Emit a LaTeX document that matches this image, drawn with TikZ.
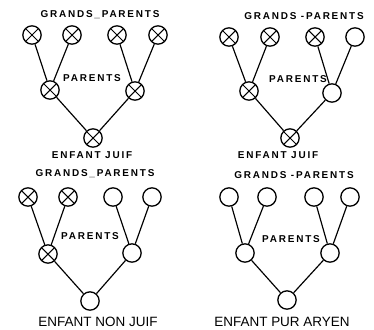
\documentclass[tikz,border=0pt]{standalone}
\usepackage{fontspec}
\setmainfont{Liberation Sans}
\newfontfamily\handfont[LetterSpace=18]{Liberation Sans}
\usetikzlibrary{arrows.meta}

\tikzset{
  pers/.style={circle,draw,line width=1.1pt,minimum size=0.55cm,inner sep=0pt},
  juif/.style={pers,path picture={
      \draw[line width=0.9pt] (path picture bounding box.north west)--(path picture bounding box.south east)
        (path picture bounding box.south west)--(path picture bounding box.north east);}},
  lien/.style={line width=1pt},
  hand/.style={font=\handfont\bfseries\fontsize{8.5}{9}\selectfont},
  legende/.style={font=\fontsize{11.5}{13}\selectfont}
}

\begin{document}
\begin{tikzpicture}[x=0.03cm,y=-0.03cm]
  \useasboundingbox[fill=white] (0,0) rectangle (374,329);

  % enfant juif (quatre grands-parents juifs)
  \node[hand] (ta) at (100,15){GRANDS\_PARENTS};
  \node[juif] (a1) at (32,35){};
  \node[juif] (a2) at (72,35){};
  \node[juif] (a3) at (117,35){};
  \node[juif] (a4) at (158,35){};
  \node[hand] (pa) at (92,78){PARENTS};
  \node[juif] (pa1) at (50,90){};
  \node[juif] (pa2) at (135,91){};
  \node[juif] (ea) at (93,138){};
  \node[hand] (la) at (92,155){ENFANT JUIF};
  \draw[lien] (a1)--(pa1) (a2)--(pa1) (a3)--(pa2) (a4)--(pa2) (pa1)--(ea) (pa2)--(ea);

  % enfant juif (trois grands-parents juifs)
  \node[hand] (tb) at (304,16){GRANDS -PARENTS};
  \node[juif] (b1) at (229,37){};
  \node[juif] (b2) at (270,37){};
  \node[juif] (b3) at (315,37){};
  \node[pers] (b4) at (355,37){};
  \node[hand] (pb) at (298,79){PARENTS};
  \node[juif] (pb1) at (249,91){};
  \node[pers] (pb2) at (332,93){};
  \node[juif] (eb) at (290,138){};
  \node[hand] (lb) at (278,155){ENFANT JUIF};
  \draw[lien] (b1)--(pb1) (b2)--(pb1) (b3)--(pb2) (b4)--(pb2) (pb1)--(eb) (pb2)--(eb);

  % enfant non juif
  \node[hand] (tc) at (95,174){GRANDS\_PARENTS};
  \node[juif] (c1) at (28,197){};
  \node[juif] (c2) at (68,197){};
  \node[pers] (c3) at (113,197){};
  \node[pers] (c4) at (152,197){};
  \node[hand] (pc) at (90,236){PARENTS};
  \node[juif] (pc1) at (48,254){};
  \node[pers] (pc2) at (132,253){};
  \node[pers] (ec) at (90,301){};
  \node[legende] (lc) at (98,322){ENFANT NON JUIF};
  \draw[lien] (c1)--(pc1) (c2)--(pc1) (c3)--(pc2) (c4)--(pc2) (pc1)--(ec) (pc2)--(ec);

  % enfant pur aryen
  \node[hand] (td) at (294,175){GRANDS -PARENTS};
  \node[pers] (d1) at (229,197){};
  \node[pers] (d2) at (267,197){};
  \node[pers] (d3) at (314,197){};
  \node[pers] (d4) at (350,197){};
  \node[hand] (pd) at (291,239){PARENTS};
  \node[pers] (pd1) at (245,253){};
  \node[pers] (pd2) at (330,253){};
  \node[pers] (ed) at (287,300){};
  \node[legende] (ld) at (282,322){ENFANT PUR ARYEN};
  \draw[lien] (d1)--(pd1) (d2)--(pd1) (d3)--(pd2) (d4)--(pd2) (pd1)--(ed) (pd2)--(ed);
\end{tikzpicture}
\end{document}
